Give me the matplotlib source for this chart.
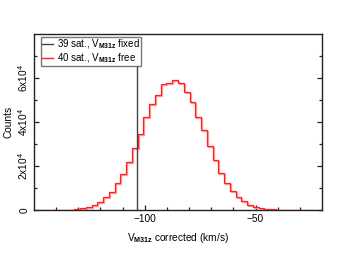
#!/usr/bin/env python3
"""Histogram of corrected V_M31z for the 40-satellite fit, with the 39-sat. fixed value."""

import numpy as np
import matplotlib
matplotlib.use("Agg")
import matplotlib.pyplot as plt
import matplotlib.transforms as mtransforms
from matplotlib.lines import Line2D

plt.rcParams["font.family"] = ["Liberation Sans", "DejaVu Sans"]
plt.rcParams["mathtext.fontset"] = "custom"
plt.rcParams["mathtext.rm"] = "Liberation Sans"
plt.rcParams["mathtext.it"] = "Liberation Sans:italic"
plt.rcParams["mathtext.bf"] = "Liberation Sans:bold"

# ── data ─────────────────────────────────────────────────────────────────
BIN_START = -147.4      # left edge of the first bin (km/s)
BIN_WIDTH = 2.6         # km/s
counts_40sat = [
    10, 20, 30, 60, 100, 200, 300,
    750, 1500, 2300, 3800, 5800, 8200, 12100, 16400, 21800,
    28000, 34500, 42100, 48300, 52100, 57400, 57900, 59200, 57900,
    53500, 49000, 42400, 36200, 29000, 22600, 16700, 12100, 8800,
    5900, 4000, 2100, 1400, 800, 400, 250, 150, 80, 50, 30, 20, 10, 5,
]
v_fixed_39sat = -103.6
v_fixed_top = 6.6e4

x_ticks = [-100, -50]
x_minor = [-140, -130, -120, -110, -90, -80, -70, -60, -40, -30]
y_ticks = [0, 2e4, 4e4, 6e4]
y_ticklabels = ["0", r"2x10$^4$", r"4x10$^4$", r"6x10$^4$"]
y_minor = [1e4, 3e4, 5e4, 7e4]

labels = [r"39 sat., V$_{\mathbf{M31z}}$ fixed",
          r"40 sat., V$_{\mathbf{M31z}}$ free"]

edges = BIN_START + BIN_WIDTH * np.arange(len(counts_40sat) + 1)

fig = plt.figure(figsize=(3.47, 2.68), dpi=100)
ax = fig.add_axes([34 / 347, 1 - 210 / 268, 288 / 347, 176 / 268])

# pale shadow under the red step line (looks like the original's rendering)
shadow = mtransforms.offset_copy(ax.transData, fig=fig, x=1.0, y=-1.0, units="dots")
ax.stairs(counts_40sat, edges, color="#ff9f9f", linewidth=1.0,
          transform=shadow, zorder=2)
ax.stairs(counts_40sat, edges, color="#ff2020", linewidth=0.9, zorder=3)

ax.vlines(v_fixed_39sat, 0, v_fixed_top, color="#444444", linewidth=1.0, zorder=4)

ax.set_xlim(-150, -20)
ax.set_ylim(0, 8e4)

ax.set_xticks(x_ticks)
ax.set_xticks(x_minor, minor=True)
ax.set_yticks(y_ticks)
ax.set_yticklabels(y_ticklabels, rotation=90, va="center")
ax.set_yticks(y_minor, minor=True)

ax.tick_params(which="both", direction="in", top=False, right=True,
               labelsize=7.3, color="#222222", width=0.9)
ax.tick_params(which="major", length=3.6, pad=3)
ax.tick_params(which="minor", length=2.4)

for sp in ax.spines.values():
    sp.set_linewidth(1.0)
    sp.set_color("#222222")

ax.set_xlabel(r"V$_{\mathbf{M31z}}$ corrected (km/s)", fontsize=7.3, labelpad=5)
ax.set_ylabel("Counts", fontsize=7.3, labelpad=2)

handles = [Line2D([], [], color="#444444", linewidth=1.0),
           Line2D([], [], color="#ff2020", linewidth=1.0)]
leg = ax.legend(handles, labels, loc="upper left", fontsize=7,
                frameon=True, fancybox=False, handlelength=1.1,
                handletextpad=0.45, borderpad=0.1, labelspacing=0.02,
                borderaxespad=0.3, bbox_to_anchor=(0.015, 1.0))
leg.get_frame().set_edgecolor("#555555")
leg.get_frame().set_linewidth(1.0)

fig.savefig("out.png", dpi=100)
